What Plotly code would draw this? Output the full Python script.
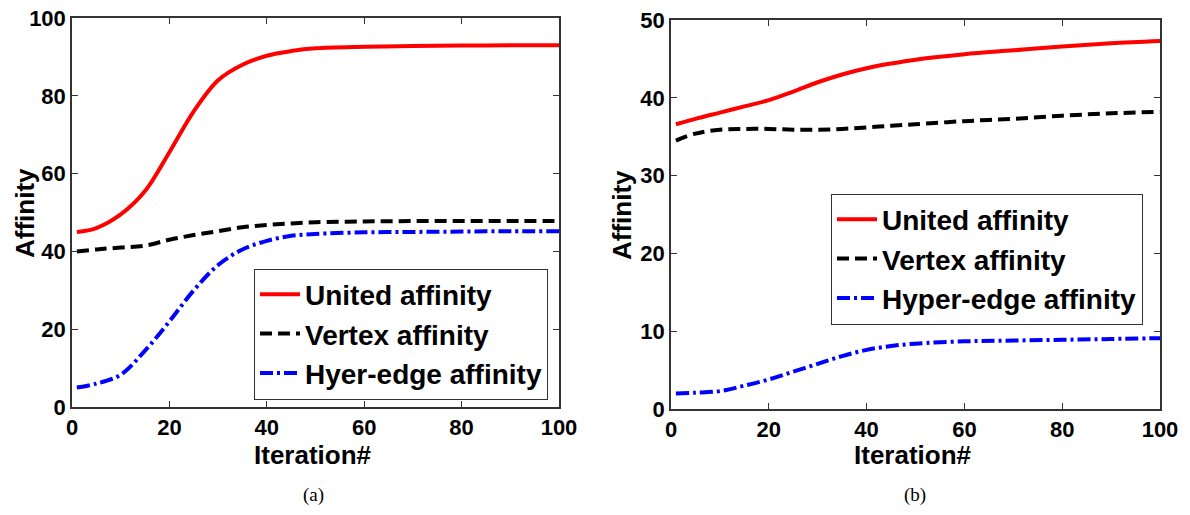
import plotly.graph_objects as go

# Iterations at which the affinity values are recorded
iterations = [1, 5, 10, 15, 20, 25, 30, 35, 40, 45, 50, 60, 70, 80, 90, 100]

# Panel (a)
united_a = [45, 46, 49.5, 55.5, 65.5, 76, 84, 88, 90.3, 91.5, 92.2, 92.6, 92.8, 92.9, 93, 93]
vertex_a = [40, 40.5, 41, 41.5, 43, 44.2, 45.2, 46.2, 46.8, 47.2, 47.5, 47.7, 47.8, 47.8, 47.8, 47.8]
hyper_a = [5, 6, 8.3, 14.5, 22, 30, 36.5, 40.5, 42.7, 44, 44.5, 44.9, 45, 45.1, 45.2, 45.2]

# Panel (b)
united_b = [36.6, 37.3, 38.1, 38.9, 39.7, 40.8, 42, 43, 43.8, 44.4, 44.9, 45.6, 46.1, 46.6, 47, 47.3]
vertex_b = [34.5, 35.4, 35.9, 36, 36, 35.9, 35.9, 36, 36.2, 36.4, 36.6, 37, 37.3, 37.7, 38, 38.2]
hyper_b = [2, 2.1, 2.3, 3, 3.8, 4.8, 5.8, 6.8, 7.6, 8.1, 8.4, 8.7, 8.8, 8.9, 9, 9.1]

names_a = ["United affinity", "Vertex affinity", "Hyer-edge affinity"]
names_b = ["United affinity", "Vertex affinity", "Hyper-edge affinity"]

styles = [
    dict(color="#ff0000", width=4, dash="solid"),
    dict(color="#000000", width=4, dash="12px,6px"),
    dict(color="#0000ff", width=4, dash="13px,4px,3px,4px"),
]

fig = go.Figure()

for series, name, st in zip([united_a, vertex_a, hyper_a], names_a, styles):
    fig.add_trace(go.Scatter(x=iterations, y=series, name=f"<b>{name}</b>", mode="lines",
                             line=dict(shape="spline", **st),
                             xaxis="x", yaxis="y", legend="legend"))

for series, name, st in zip([united_b, vertex_b, hyper_b], names_b, styles):
    fig.add_trace(go.Scatter(x=iterations, y=series, name=f"<b>{name}</b>", mode="lines",
                             line=dict(shape="spline", **st),
                             xaxis="x2", yaxis="y2", legend="legend2"))

W, H = 1190, 515
tick_font = dict(family="Liberation Sans, Arial, sans-serif", size=22, color="black")
title_font = dict(family="Liberation Sans, Arial, sans-serif", size=26, color="black")
legend_font = dict(family="Liberation Sans, Arial, sans-serif", size=28, color="black")

axis_common = dict(
    showline=True, linecolor="#333333", linewidth=1.5, mirror="allticks",
    ticks="inside", ticklen=6, tickwidth=1, tickcolor="#333333",
    showgrid=False, zeroline=False, tickfont=tick_font, automargin=False,
    tickprefix="<b>", ticksuffix="</b>",
)

fig.update_layout(
    template="none",
    width=W, height=H,
    margin=dict(l=0, r=0, t=0, b=0),
    paper_bgcolor="white", plot_bgcolor="white",
    xaxis=dict(domain=[72 / W, 559 / W], range=[0, 100], dtick=20, anchor="y", **axis_common),
    yaxis=dict(domain=[1 - 407 / H, 1 - 18 / H], range=[0, 100], dtick=20, anchor="x", **axis_common),
    xaxis2=dict(domain=[671 / W, 1160 / W], range=[0, 100], dtick=20, anchor="y2", **axis_common),
    yaxis2=dict(domain=[1 - 409 / H, 1 - 20 / H], range=[0, 50], dtick=10, anchor="x2", **axis_common),
    legend=dict(x=548 / W, y=1 - 334 / H, xanchor="right", yanchor="middle",
                bgcolor="white", bordercolor="#333333", borderwidth=1,
                font=legend_font, tracegroupgap=0, itemwidth=40),
    legend2=dict(x=1143 / W, y=1 - 259 / H, xanchor="right", yanchor="middle",
                 bgcolor="white", bordercolor="#333333", borderwidth=1,
                 font=legend_font, tracegroupgap=0, itemwidth=40),
    showlegend=True,
)

caption_font = dict(family="Liberation Serif, Times New Roman, serif", size=19, color="black")
annotations = [
    dict(text="<b>Affinity</b>", x=25 / W, y=1 - 213 / H, textangle=-90, font=title_font),
    dict(text="<b>Iteration#</b>", x=313 / W, y=1 - 455 / H, font=title_font),
    dict(text="<b>Affinity</b>", x=622 / W, y=1 - 215 / H, textangle=-90, font=title_font),
    dict(text="<b>Iteration#</b>", x=913 / W, y=1 - 455 / H, font=title_font),
    dict(text="(a)", x=313 / W, y=1 - 495 / H, font=caption_font),
    dict(text="(b)", x=915 / W, y=1 - 495 / H, font=caption_font),
]
for a in annotations:
    a.update(xref="paper", yref="paper", showarrow=False, xanchor="center", yanchor="middle")
fig.update_layout(annotations=annotations)

fig.write_html("out.html")
